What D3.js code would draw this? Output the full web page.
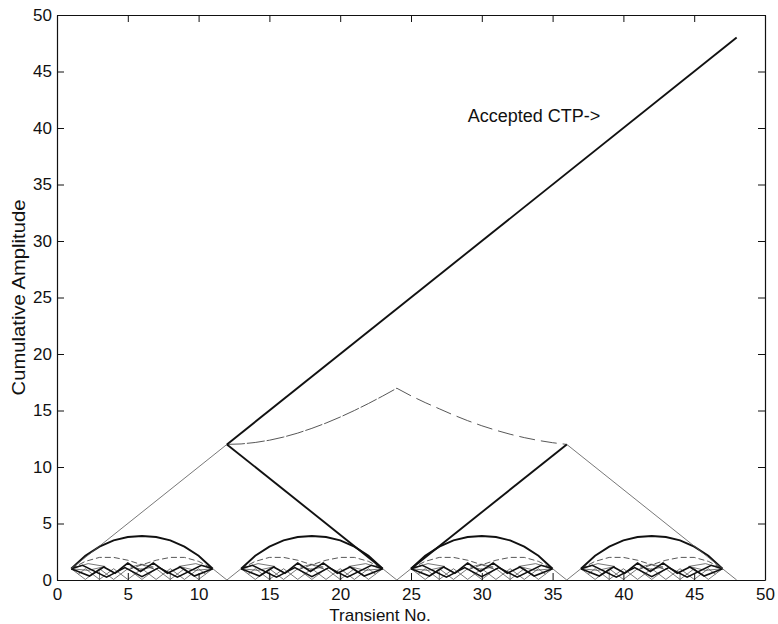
<!DOCTYPE html>
<html>
<head>
<meta charset="utf-8">
<script src="https://cdn.jsdelivr.net/npm/d3@7"></script>
<style>
  body { margin: 0; background: #fff; }
  svg { display: block; }
  text { font-family: "Liberation Sans", Arial, Helvetica, sans-serif; fill: #111; }
</style>
</head>
<body>
<div id="chart"></div>
<script>
// axis ticks
const xTicks = [0, 5, 10, 15, 20, 25, 30, 35, 40, 45, 50];
const yTicks = [0, 5, 10, 15, 20, 25, 30, 35, 40, 45, 50];

// top level paths
const acceptedLine = [[12, 12], [48, 48]];
const riseThin = [[1, 1], [12, 12]];
const fallThick = [[12, 12], [23, 1]];
const riseThick = [[25, 1], [36, 12]];
const fallThin = [[36, 12], [48, 0]];
const vJoins = [
    [[11, 1], [12, 0], [13, 1]],
    [[23, 1], [24, 0], [25, 1]],
    [[35, 1], [36, 0], [37, 1]]
];
// magnitude curve between 12 and 36
const magLeft = [[12, 12.0], [13, 12.04], [14, 12.17], [15, 12.37], [16, 12.65], [17, 13.0], [18, 13.42],
    [19, 13.89], [20, 14.42], [21, 15.0], [22, 15.62], [23, 16.28], [24, 16.97]];
const magRight = [[24, 16.97], [25, 16.3], [26, 15.7], [27, 15.15], [28, 14.6], [29, 14.1], [30, 13.65],
    [31, 13.25], [32, 12.9], [33, 12.6], [34, 12.35], [35, 12.15], [36, 12.0]];

// repeated pattern inside every group of 12 transients (x relative to group start)
const blockStarts = [0, 12, 24, 36];
const bigArc = [[1, 1.0], [2, 2.15], [3, 2.95], [4, 3.5], [5, 3.8], [6, 3.9], [7, 3.8], [8, 3.5],
    [9, 2.95], [10, 2.15], [11, 1.0]];
const dashArcL = [[1, 1.0], [2, 1.65], [3, 2.0], [4, 2.0], [5, 1.75], [6, 1.35], [7, 0.9]];
const dashArcR = [[5, 0.9], [6, 1.35], [7, 1.75], [8, 2.0], [9, 2.0], [10, 1.65], [11, 1.0]];
const zigA = [[1, 1], [2.3, 0.35], [3.3, 1.15], [4.1, 0.6], [5.0, 1.5], [5.9, 0.75], [6.8, 1.5],
    [7.8, 0.6], [8.7, 1.15], [9.7, 0.35], [11, 1]];
const zigB = [[1, 1], [1.8, 1.3], [3.5, 0.25], [4.8, 1.1], [6, 0.3], [7.2, 1.1], [8.5, 0.25],
    [10.2, 1.3], [11, 1]];
const latticeA = [[1, 1], [2, 0.05], [3, 1], [4, 0.05], [5, 1], [6, 0.05], [7, 1], [8, 0.05],
    [9, 1], [10, 0.05], [11, 1]];
const latticeB = [[1.5, 0.5], [2, 1], [3, 0.05], [4, 1], [5, 0.05], [6, 1], [7, 0.05], [8, 1],
    [9, 0.05], [10, 1], [10.5, 0.5]];
const lenses = [
    [[1, 1], [2.2, 1.45], [3.4, 1.2]],
    [[1, 1], [2.2, 0.85], [3.4, 1.2]],
    [[8.6, 1.2], [9.8, 1.45], [11, 1]],
    [[8.6, 1.2], [9.8, 0.85], [11, 1]],
    [[5.2, 1.15], [6, 1.4], [6.8, 1.15]],
    [[5.2, 1.15], [6, 0.95], [6.8, 1.15]]
];
const stubs = [[[3, 0], [3, 0.75]], [[8, 0], [8, 0.75]]];

const W = 778, H = 624;
const margin = { left: 57, right: 13, top: 15, bottom: 44 };

const svg = d3.select("#chart").append("svg")
    .attr("width", W)
    .attr("height", H);

const x = d3.scaleLinear().domain([0, 50]).range([margin.left, W - margin.right]);
const y = d3.scaleLinear().domain([0, 50]).range([H - margin.bottom, margin.top]);

const line = (off = 0) => d3.line().x(d => x(d[0] + off)).y(d => y(d[1]));

const plot = svg.append("g");

function draw(data, off, cls) {
    const p = plot.append("path")
        .attr("d", line(off)(data))
        .attr("fill", "none");
    if (cls === "thick") p.attr("stroke", "#111").attr("stroke-width", 1.9);
    else if (cls === "mid") p.attr("stroke", "#111").attr("stroke-width", 1.6);
    else if (cls === "thin") p.attr("stroke", "#555").attr("stroke-width", 0.8);
    else if (cls === "dash") p.attr("stroke", "#444").attr("stroke-width", 0.9).attr("stroke-dasharray", "6,3");
    return p;
}

// small pattern in each group
blockStarts.forEach(b => {
    draw(latticeA, b, "thin");
    draw(latticeB, b, "thin");
    lenses.forEach(l => draw(l, b, "thin"));
    stubs.forEach(s => draw(s, b, "thin"));
    draw(dashArcL, b, "dash");
    draw(dashArcR, b, "dash");
    draw(zigB, b, "mid");
    draw(zigA, b, "mid");
    draw(bigArc, b, "thick");
});

vJoins.forEach(v => draw(v, 0, "thin"));
draw(riseThin, 0, "thin");
draw(fallThin, 0, "thin");
draw(magLeft, 0, "dash").attr("stroke-dasharray", "18,2");
draw(magRight, 0, "dash").attr("stroke-dasharray", "16,6");
draw(fallThick, 0, "thick");
draw(riseThick, 0, "thick");
draw(acceptedLine, 0, "thick");

// axes with inward ticks on all sides
const fs = "17px";
const gx = svg.append("g").attr("transform", `translate(0,${y(0)})`)
    .call(d3.axisBottom(x).tickValues(xTicks).tickSizeInner(-7).tickSizeOuter(0).tickPadding(8));
const gy = svg.append("g").attr("transform", `translate(${x(0)},0)`)
    .call(d3.axisLeft(y).tickValues(yTicks).tickSizeInner(-7).tickSizeOuter(0).tickPadding(5));
const gt = svg.append("g").attr("transform", `translate(0,${y(50)})`)
    .call(d3.axisTop(x).tickValues(xTicks).tickSizeInner(-7).tickSizeOuter(0).tickFormat(""));
const gr = svg.append("g").attr("transform", `translate(${x(50)},0)`)
    .call(d3.axisRight(y).tickValues(yTicks).tickSizeInner(-7).tickSizeOuter(0).tickFormat(""));

[gx, gy, gt, gr].forEach(g => {
    g.selectAll(".domain").attr("stroke", "#111").attr("stroke-width", 1.2);
    g.selectAll(".tick line").attr("stroke", "#111").attr("stroke-width", 1);
    g.selectAll(".tick text").style("font-size", fs).attr("fill", "#111")
        .style("font-family", '"Liberation Sans", Arial, Helvetica, sans-serif');
});

// titles
svg.append("text")
    .attr("x", 380)
    .attr("y", 621)
    .attr("text-anchor", "middle")
    .style("font-size", fs)
    .text("Transient No.");

svg.append("text")
    .attr("transform", `translate(25,${(y(0) + y(50)) / 2}) rotate(-90)`)
    .attr("text-anchor", "middle")
    .attr("textLength", 196)
    .attr("lengthAdjust", "spacingAndGlyphs")
    .style("font-size", "18px")
    .text("Cumulative Amplitude");

svg.append("text")
    .attr("x", x(29))
    .attr("y", y(40.5))
    .style("font-size", "18px")
    .text("Accepted CTP->");
</script>
</body>
</html>
